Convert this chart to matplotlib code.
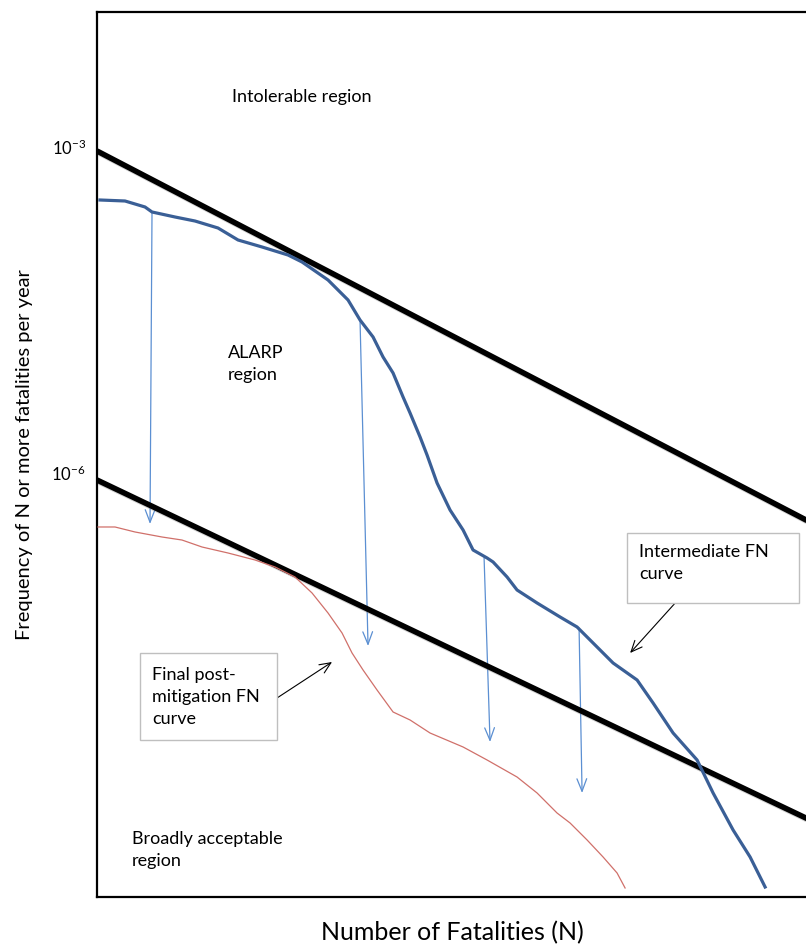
import matplotlib
matplotlib.use("Agg")
import matplotlib.pyplot as plt
import matplotlib.patheffects as pe
from matplotlib.patches import Rectangle

plt.rcParams["font.family"] = ["Lato", "DejaVu Sans"]
plt.rcParams["mathtext.fontset"] = "custom"
plt.rcParams["mathtext.rm"] = "Lato"
plt.rcParams["mathtext.it"] = "Lato"

# Intermediate FN curve (N, frequency per year)
inter_n = [1.039, 1.431, 1.848, 2.021, 2.713, 3.503, 4.701, 6.072, 8.254, 11.51,
           13.77, 19.20, 24.80, 28.91, 34.15, 38.81, 44.11, 50.12, 54.82, 62.31,
           68.13, 77.43, 91.44, 108.0, 122.7, 146.8, 158.5, 189.6, 215.4,
           278.3, 373.4, 464.2, 569.6, 735.6, 1000, 1227, 1585, 2154, 2644,
           3415, 4244, 5142]
inter_f = [3.253e-4, 3.185e-4, 2.805e-4, 2.523e-4, 2.269e-4, 2.084e-4, 1.797e-4,
           1.394e-4, 1.202e-4, 1.014e-4, 8.744e-5, 5.972e-5, 3.909e-5, 2.559e-5,
           1.785e-5, 1.168e-5, 8.323e-6, 5.006e-6, 3.566e-6, 2.145e-6,
           1.465e-6, 8.093e-7, 4.566e-7, 2.990e-7, 1.957e-7, 1.652e-7, 1.518e-7,
           1.104e-7, 8.383e-8, 6.365e-8, 4.732e-8, 3.827e-8, 2.727e-8, 1.785e-8,
           1.245e-8, 7.648e-9, 4.050e-9, 2.286e-9, 1.136e-9, 5.186e-10, 2.927e-10,
           1.550e-10]

# Final post-mitigation FN curve
final_n = [1.013, 1.259, 1.626, 2.297, 2.966, 3.831, 5.344, 7.546, 9.747, 12.59,
           15.65, 19.20, 22.97, 26.10, 30.05, 35.94, 44.11, 54.82, 70.79, 108.0,
           146.8, 215.4, 278.3, 359.3, 424.4, 527.6, 647.3, 774.3, 857.7]
final_f = [3.186e-7, 3.186e-7, 2.866e-7, 2.577e-7, 2.417e-7, 2.085e-7, 1.836e-7,
           1.583e-7, 1.365e-7, 1.104e-7, 7.866e-8, 5.149e-8, 3.371e-8, 2.207e-8,
           1.539e-8, 1.007e-8, 6.321e-9, 5.336e-9, 4.050e-9, 3.011e-9, 2.286e-9,
           1.594e-9, 1.136e-9, 7.434e-10, 6.016e-10, 4.197e-10, 2.927e-10,
           2.085e-10, 1.518e-10]

# criterion lines
crit_n = [1, 1e4]
upper_f = [9.19e-4, 3.27e-7]
lower_f = [8.62e-7, 5.97e-10]

# mitigation arrows: start (N, F) -> end (N, F)
arrow_start_n = [2.021, 28.91, 141.3, 476.2]
arrow_start_f = [2.523e-4, 2.559e-5, 1.652e-7, 3.747e-8]
arrow_end_n = [1.970, 32.03, 152.5, 494.8]
arrow_end_f = [3.396e-7, 2.559e-8, 3.347e-9, 1.136e-9]

fig = plt.figure(figsize=(8.06, 9.49), dpi=100)
ax = fig.add_axes([97 / 806, 52 / 949, 711 / 806, 885 / 949])
ax.set_xscale("log")
ax.set_yscale("log")
ax.set_xlim(1, 8.9e3)
ax.set_ylim(1.254e-10, 1.747e-2)

shadow = [pe.SimpleLineShadow(offset=(1.5, -1.5), shadow_color="gray", alpha=0.35),
          pe.Normal()]
ax.plot(crit_n, upper_f, color="black", lw=4, solid_capstyle="butt",
        path_effects=shadow, zorder=3)
ax.plot(crit_n, lower_f, color="black", lw=4, solid_capstyle="butt",
        path_effects=shadow, zorder=3)

ax.plot(inter_n, inter_f, color="#3A5F96", lw=2.3, zorder=4)
ax.plot(final_n, final_f, color="#D0706A", lw=0.9, zorder=4)

for sn, sf, en, ef in zip(arrow_start_n, arrow_start_f, arrow_end_n, arrow_end_f):
    ax.annotate("", xy=(en, ef), xytext=(sn, sf),
                arrowprops=dict(arrowstyle="->,head_length=0.9,head_width=0.35",
                                color="#5B8FD2", lw=0.9, shrinkA=0, shrinkB=0),
                zorder=2)

fs = 13
ax.text(0.190, 0.904, "Intolerable region", transform=ax.transAxes,
        fontsize=fs, va="center", ha="left")
ax.text(0.184, 0.602, "ALARP\nregion", transform=ax.transAxes,
        fontsize=fs, va="center", ha="left", linespacing=1.45)
ax.text(0.049, 0.053, "Broadly acceptable\nregion", transform=ax.transAxes,
        fontsize=fs, va="center", ha="left", linespacing=1.45)

ax.add_patch(Rectangle((0.7454, 0.3322), 0.2419, 0.0791, transform=ax.transAxes,
                       facecolor="white", edgecolor="#BFBFBF", lw=1, zorder=5))
ax.text(0.7623, 0.3774, "Intermediate FN\ncurve", transform=ax.transAxes,
        fontsize=fs, va="center", ha="left", linespacing=1.45, zorder=6)
ax.add_patch(Rectangle((0.0605, 0.1774), 0.1927, 0.0983, transform=ax.transAxes,
                       facecolor="white", edgecolor="#BFBFBF", lw=1, zorder=5))
ax.text(0.0774, 0.226, "Final post-\nmitigation FN\ncurve", transform=ax.transAxes,
        fontsize=fs, va="center", ha="left", linespacing=1.45, zorder=6)

ax.annotate("", xy=(914.5, 2.207e-8), xytext=(1647, 6.501e-8),
            arrowprops=dict(arrowstyle="->,head_length=0.8,head_width=0.35",
                            color="black", lw=0.8, shrinkA=0, shrinkB=0))
ax.annotate("", xy=(20.21, 1.823e-8), xytext=(10, 8.503e-9),
            arrowprops=dict(arrowstyle="->,head_length=0.8,head_width=0.35",
                            color="black", lw=0.8, shrinkA=0, shrinkB=0))

ax.set_yticks([1e-3, 1e-6])
ax.set_yticklabels([r"$10^{-3}$", r"$10^{-6}$"], fontsize=12)
ax.minorticks_off()
ax.set_xticks([])
ax.tick_params(axis="y", length=0, pad=8)
for side in ["left", "top", "bottom", "right"]:
    ax.spines[side].set_linewidth(1.6)

ax.set_xlabel("Number of Fatalities (N)", fontsize=18)
ax.xaxis.set_label_coords(0.5, -0.027)
ax.set_ylabel("Frequency of N or more fatalities per year", fontsize=14.5)
ax.yaxis.set_label_coords(-0.09, 0.5)

fig.savefig("out.png", dpi=100)
